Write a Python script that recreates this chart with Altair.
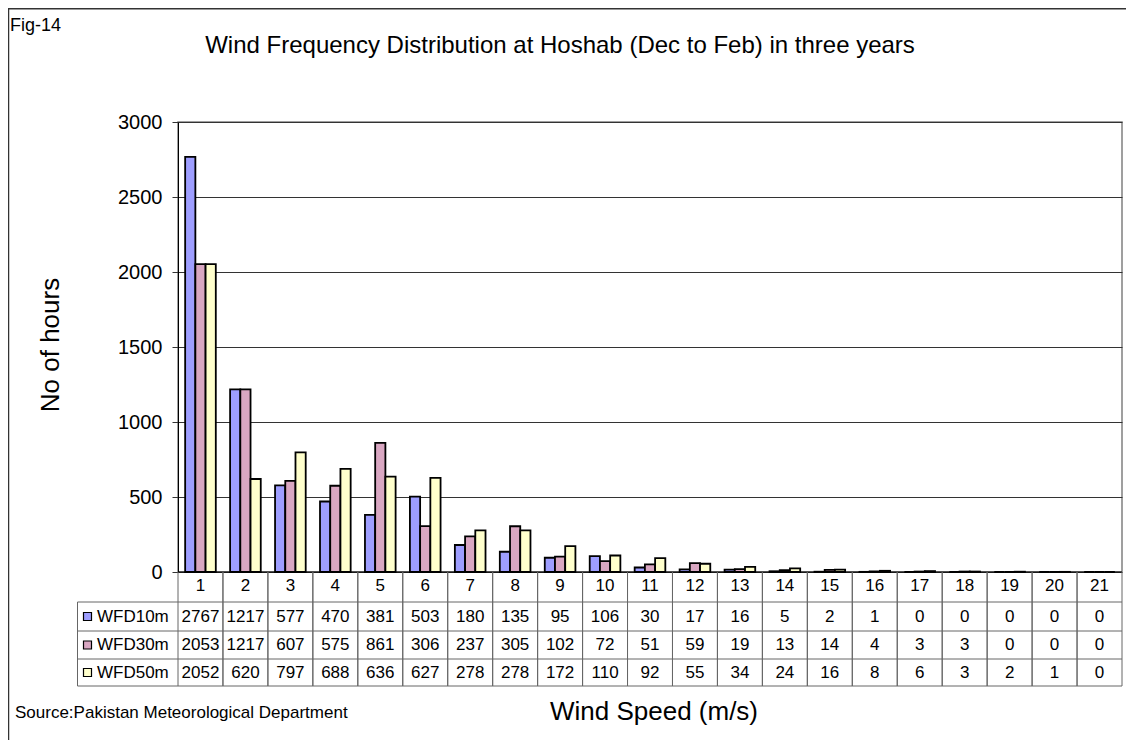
import altair as alt
import pandas as pd

# ---- data ----
categories = list(range(1, 22))
wfd10m = [2767, 1217, 577, 470, 381, 503, 180, 135, 95, 106, 30, 17, 16, 5, 2, 1, 0, 0, 0, 0, 0]
wfd30m = [2053, 1217, 607, 575, 861, 306, 237, 305, 102, 72, 51, 59, 19, 13, 14, 4, 3, 3, 0, 0, 0]
wfd50m = [2052, 620, 797, 688, 636, 627, 278, 278, 172, 110, 92, 55, 34, 24, 16, 8, 6, 3, 2, 1, 0]
series_names = ["WFD10m", "WFD30m", "WFD50m"]
series_colors = ["#9E9EFF", "#D9A7C2", "#FFFFCC"]
y_ticks = [0, 500, 1000, 1500, 2000, 2500, 3000]

title_text = "Wind Frequency Distribution at Hoshab (Dec to Feb) in three years"
fig_text = "Fig-14"
x_title = "Wind Speed (m/s)"
y_title = "No of hours"
source_text = "Source:Pakistan Meteorological Department"

rows = []
for name, vals in zip(series_names, [wfd10m, wfd30m, wfd50m]):
    for c, v in zip(categories, vals):
        rows.append({"cat": c, "series": name, "value": v})
df = pd.DataFrame(rows)
cat_df = pd.DataFrame({"cat": categories})
one = pd.DataFrame({"k": [0]})

FONT = "Liberation Sans, Arial, sans-serif"
W, H = 944, 450
LINE = "#666666"
row_centers = [494.5, 523, 550.5]
row_lines = [480, 509, 537, 564]
legend_left = -100.5

x_scale = alt.Scale(paddingInner=0, paddingOuter=0)

bars = alt.Chart(df).mark_bar(stroke="black", strokeWidth=1.8).encode(
    x=alt.X("cat:O", scale=x_scale, axis=None, sort=categories),
    xOffset=alt.XOffset("series:N", scale=alt.Scale(domain=series_names, paddingInner=0, paddingOuter=0.7)),
    y=alt.Y(
        "value:Q",
        scale=alt.Scale(domain=[0, 3000], nice=False),
        axis=alt.Axis(
            values=y_ticks, format="d", grid=True, gridColor="#333333", gridWidth=1,
            tickSize=6, tickColor="#333333", domainColor="black",
            labelFont=FONT, labelFontSize=20, labelColor="black", labelPadding=10,
            title=None,
        ),
    ),
    color=alt.Color("series:N", scale=alt.Scale(domain=series_names, range=series_colors), legend=None),
)

layers = [bars]

# x axis line
layers.append(alt.Chart(one).mark_rule(color="black", strokeWidth=1.2).encode(
    y=alt.datum(0), x=alt.value(0), x2=alt.value(W)))

# category separators running through the table
for bp in (0, 1):
    layers.append(alt.Chart(cat_df).mark_rule(color=LINE, strokeWidth=1).encode(
        x=alt.X("cat:O", bandPosition=bp, sort=categories),
        y=alt.value(H), y2=alt.value(row_lines[-1])))

# horizontal table lines
for yl in row_lines:
    layers.append(alt.Chart(one).mark_rule(color=LINE, strokeWidth=1).encode(
        x=alt.value(legend_left), x2=alt.value(W), y=alt.value(yl)))
layers.append(alt.Chart(one).mark_rule(color=LINE, strokeWidth=1).encode(
    x=alt.value(legend_left), y=alt.value(row_lines[0]), y2=alt.value(row_lines[-1])))

# category labels
layers.append(alt.Chart(cat_df).mark_text(font=FONT, fontSize=17, color="black", baseline="middle").encode(
    x=alt.X("cat:O", sort=categories), y=alt.value(464), text="cat:O"))

# table values and legend keys
for name, col, yc in zip(series_names, series_colors, row_centers):
    layers.append(alt.Chart(df).transform_filter(alt.datum.series == name).mark_text(
        font=FONT, fontSize=17, color="black", baseline="middle").encode(
        x=alt.X("cat:O", sort=categories), y=alt.value(yc), text="value:Q"))
    layers.append(alt.Chart(one).mark_square(size=64, filled=True, stroke="black", strokeWidth=1.2, opacity=1).encode(
        x=alt.value(-90.5), y=alt.value(yc), color=alt.value(col)))
    layers.append(alt.Chart(one).mark_text(font=FONT, fontSize=17, color="black", align="left", baseline="middle").encode(
        x=alt.value(-81), y=alt.value(yc), text=alt.value(name)))

# free texts
layers.append(alt.Chart(one).mark_text(font=FONT, fontSize=24, color="black", align="center", baseline="middle").encode(
    x=alt.value(382), y=alt.value(-76), text=alt.value(title_text)))
layers.append(alt.Chart(one).mark_text(font=FONT, fontSize=18, color="black", align="left", baseline="middle").encode(
    x=alt.value(-168), y=alt.value(-96), text=alt.value(fig_text)))
layers.append(alt.Chart(one).mark_text(font=FONT, fontSize=26, color="black", align="center", baseline="middle").encode(
    x=alt.value(476), y=alt.value(590), text=alt.value(x_title)))
layers.append(alt.Chart(one).mark_text(font=FONT, fontSize=17, color="black", align="left", baseline="middle").encode(
    x=alt.value(-163), y=alt.value(591), text=alt.value(source_text)))
layers.append(alt.Chart(one).mark_text(font=FONT, fontSize=26, color="black", align="center", baseline="middle", angle=270).encode(
    x=alt.value(-127), y=alt.value(223), text=alt.value(y_title)))

# outer frame (left and top)
layers.append(alt.Chart(one).mark_rule(color="#333333", strokeWidth=1.5).encode(
    x=alt.value(-169.5), y=alt.value(-114), y2=alt.value(618)))
layers.append(alt.Chart(one).mark_rule(color="#333333", strokeWidth=1.5).encode(
    x=alt.value(-170), x2=alt.value(W + 4), y=alt.value(-113.2)))

chart = alt.layer(*layers).properties(
    width=W, height=H,
    autosize=alt.AutoSizeParams(type="none"),
    padding={"left": 170, "top": 114, "right": 4, "bottom": 168},
    background="white",
).configure_view(stroke="#808080", strokeWidth=1.5)

chart.save("out.html", embed_options={"renderer": "svg", "actions": False})
